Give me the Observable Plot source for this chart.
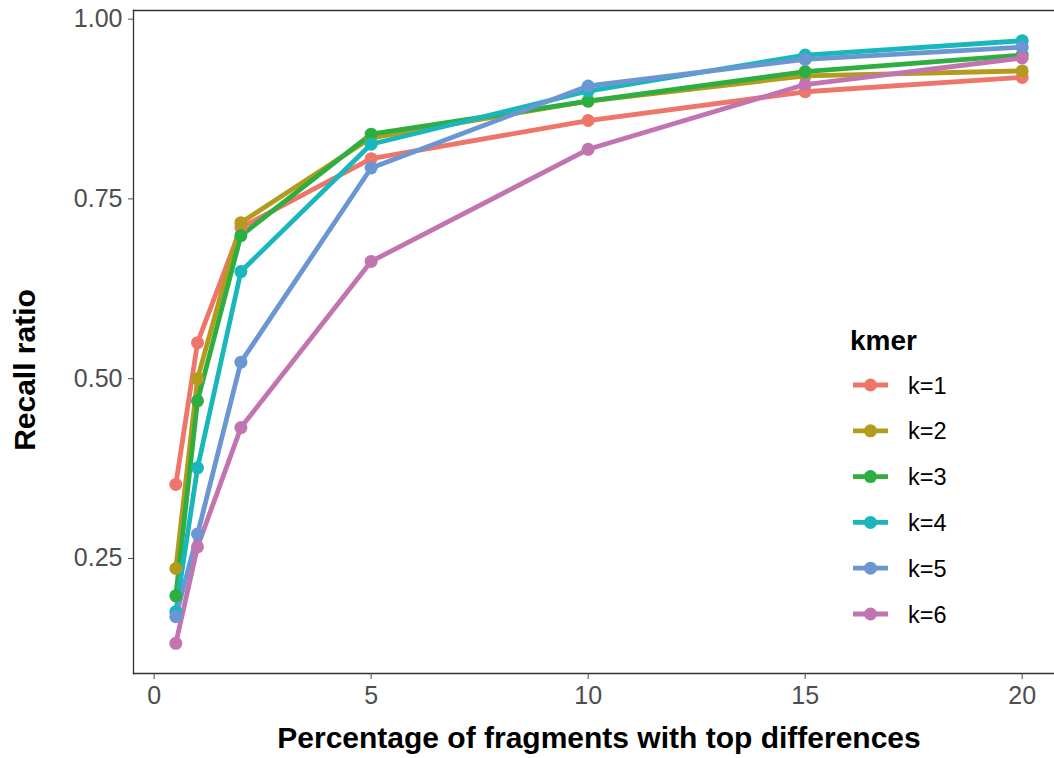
<!DOCTYPE html>
<html>
<head>
<meta charset="utf-8">
<script src="https://cdn.jsdelivr.net/npm/d3@7"></script>
<script src="https://cdn.jsdelivr.net/npm/@observablehq/plot@0.6"></script>
<style>
  html, body { margin: 0; padding: 0; background: #ffffff; }
  #chart { position: relative; width: 1054px; height: 758px; overflow: hidden; }
</style>
</head>
<body>
<div id="chart"></div>
<script>
// ---- data ----
const percentages = [0.5, 1, 2, 5, 10, 15, 20];
const kmerKeys = ["k=1", "k=2", "k=3", "k=4", "k=5", "k=6"];
const recallK1 = [0.353, 0.550, 0.710, 0.806, 0.859, 0.899, 0.919];
const recallK2 = [0.236, 0.500, 0.717, 0.835, 0.886, 0.921, 0.928];
const recallK3 = [0.198, 0.469, 0.699, 0.840, 0.886, 0.927, 0.950];
const recallK4 = [0.176, 0.376, 0.649, 0.826, 0.900, 0.950, 0.970];
const recallK5 = [0.169, 0.284, 0.523, 0.793, 0.907, 0.944, 0.961];
const recallK6 = [0.132, 0.266, 0.432, 0.663, 0.819, 0.909, 0.946];
const kmerColors = ["#EE7569", "#B49B1E", "#2DAE40", "#19B7BB", "#6A97D1", "#C274B0"];
const xTicks = [0, 5, 10, 15, 20];
const yTicks = [0.25, 0.50, 0.75, 1.00];
const xTitle = "Percentage of fragments with top differences";
const yTitle = "Recall ratio";
const legendTitle = "kmer";

const series = [recallK1, recallK2, recallK3, recallK4, recallK5, recallK6];
const rows = [];
series.forEach((vals, i) => vals.forEach((v, j) => rows.push({k: kmerKeys[i], x: percentages[j], y: v})));

const font = "'Liberation Sans', Arial, Helvetica, sans-serif";

const plot = Plot.plot({
  width: 1054,
  height: 758,
  marginLeft: 133,
  marginRight: -10,
  marginTop: 10,
  marginBottom: 85,
  style: {fontFamily: font, background: "#ffffff"},
  x: {domain: [-0.475, 20.975]},
  y: {domain: [0.09, 1.012]},
  color: {domain: kmerKeys, range: kmerColors},
  marks: [
    Plot.frame({anchor: "top", stroke: "#333333", strokeWidth: 1.3}),
    Plot.frame({anchor: "left", stroke: "#333333", strokeWidth: 1.3}),
    Plot.frame({anchor: "bottom", stroke: "#333333", strokeWidth: 1.3}),
    Plot.axisX({ticks: xTicks, tickSize: 6, tickPadding: 7, fontSize: 25, color: "#4d4d4d", label: null, tickFormat: d => String(d)}),
    Plot.axisY({ticks: yTicks, tickSize: 5, tickPadding: 6, fontSize: 25, color: "#4d4d4d", label: null, tickFormat: d3.format(".2f")}),
    Plot.lineY(rows, {x: "x", y: "y", z: "k", stroke: "k", strokeWidth: 4.8, strokeLinejoin: "round", strokeLinecap: "butt"}),
    Plot.dot(rows, {x: "x", y: "y", fill: "k", r: 6.5, stroke: null}),
    Plot.text([xTitle], {frameAnchor: "bottom", dy: 74, fontSize: 30, fontWeight: "bold", fill: "#000", lineAnchor: "bottom", textAnchor: "middle"}),
    Plot.text([yTitle], {frameAnchor: "left", dx: -99, dy: 28, rotate: -90, fontSize: 30, fontWeight: "bold", fill: "#000", lineAnchor: "bottom", textAnchor: "middle"})
  ]
});

document.getElementById("chart").appendChild(plot);

// ---- legend (inside the panel, right side) ----
const svg = d3.select(plot);
const lg = svg.append("g").attr("font-family", font).attr("text-anchor", "start");
lg.append("text")
  .attr("x", 850).attr("y", 350)
  .attr("font-size", 28).attr("font-weight", "bold").attr("fill", "#000")
  .text(legendTitle);
const step = 45.8;
kmerKeys.forEach((key, i) => {
  const cy = 385 + i * step;
  const g = lg.append("g");
  g.append("line").attr("x1", 853).attr("x2", 888).attr("y1", cy).attr("y2", cy)
    .attr("stroke", kmerColors[i]).attr("stroke-width", 4.8);
  g.append("circle").attr("cx", 870.5).attr("cy", cy).attr("r", 6.5).attr("fill", kmerColors[i]);
  g.append("text").attr("x", 908).attr("y", cy + 8.5)
    .attr("font-size", 23.5).attr("fill", "#000").text(key);
});
</script>
</body>
</html>
